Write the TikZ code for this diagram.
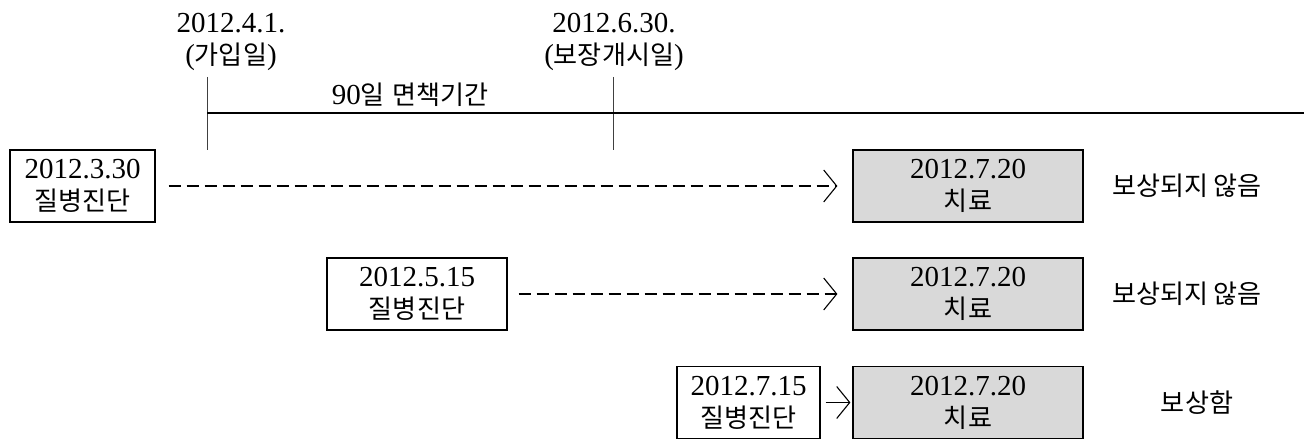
\documentclass[tikz,border=0pt]{standalone}
\usepackage{fontspec}
\setmainfont{Liberation Serif}
\newfontfamily\kr[Scale=0.9]{Noto Sans CJK KR}
\usetikzlibrary{arrows.meta}
\definecolor{boxgray}{HTML}{D9D9D9}
\tikzset{
  txt/.style={inner sep=0pt, align=center, font=\fontsize{29}{32}\selectfont},
  wbox/.style={txt, draw, line width=1.2pt, fill=white, minimum height=72pt},
  gbox/.style={txt, draw, line width=1.2pt, fill=boxgray, minimum width=230pt, minimum height=72pt},
  tick/.style={line width=1pt, draw=black!75},
  axis/.style={line width=1.2pt},
  tipstyle/.style={-{Straight Barb[length=13pt,width=32pt,line width=1.1pt]}},
  dasharrow/.style={line width=1.1pt, dash pattern=on 12pt off 6pt, tipstyle},
  solidarrow/.style={line width=1.1pt, tipstyle}
}
\begin{document}
\begin{tikzpicture}[x=1pt,y=-1pt]
\useasboundingbox (0,0) rectangle (1304,441);
% date labels
\node[txt] (l1) at (231,42) {2012.4.1.\\({\kr 가입일})};
\node[txt] (l2) at (614,42) {2012.6.30.\\({\kr 보장개시일})};
% ticks and axis
\coordinate (t1a) at (207,77);
\coordinate (t1b) at (207,150);
\coordinate (t2a) at (613,77);
\coordinate (t2b) at (613,150);
\coordinate (ax0) at (207,113);
\coordinate (ax1) at (1304,113);
\draw[tick] (t1a) -- (t1b);
\draw[tick] (t2a) -- (t2b);
\draw[axis] (ax0) -- (ax1);
\node[txt] (free) at (410,95) {90{\kr 일} {\kr 면책기간}};
% row 1
\node[wbox, minimum width=145pt] (d1) at (82.5,186) {2012.3.30\\{\kr 질병진단}};
\node[gbox] (g1) at (968,186) {2012.7.20\\{\kr 치료}};
\node[txt] (r1) at (1187,186) {\kr 보상되지 않음};
\draw[dasharrow, shorten <=13pt, shorten >=15pt] (d1.east) -- (g1.west);
% row 2
\node[wbox, minimum width=180pt] (d2) at (417,294) {2012.5.15\\{\kr 질병진단}};
\node[gbox] (g2) at (968,294) {2012.7.20\\{\kr 치료}};
\node[txt] (r2) at (1187,294) {\kr 보상되지 않음};
\draw[dasharrow, shorten <=11pt, shorten >=15pt] (d2.east) -- (g2.west);
% row 3
\node[wbox, minimum width=143pt] (d3) at (748.5,402.5) {2012.7.15\\{\kr 질병진단}};
\node[gbox] (g3) at (968,402.5) {2012.7.20\\{\kr 치료}};
\node[txt] (r3) at (1197,402.5) {\kr 보상함};
\draw[solidarrow, shorten <=5pt, shorten >=2pt] (d3.east) -- (g3.west);
\end{tikzpicture}
\end{document}
